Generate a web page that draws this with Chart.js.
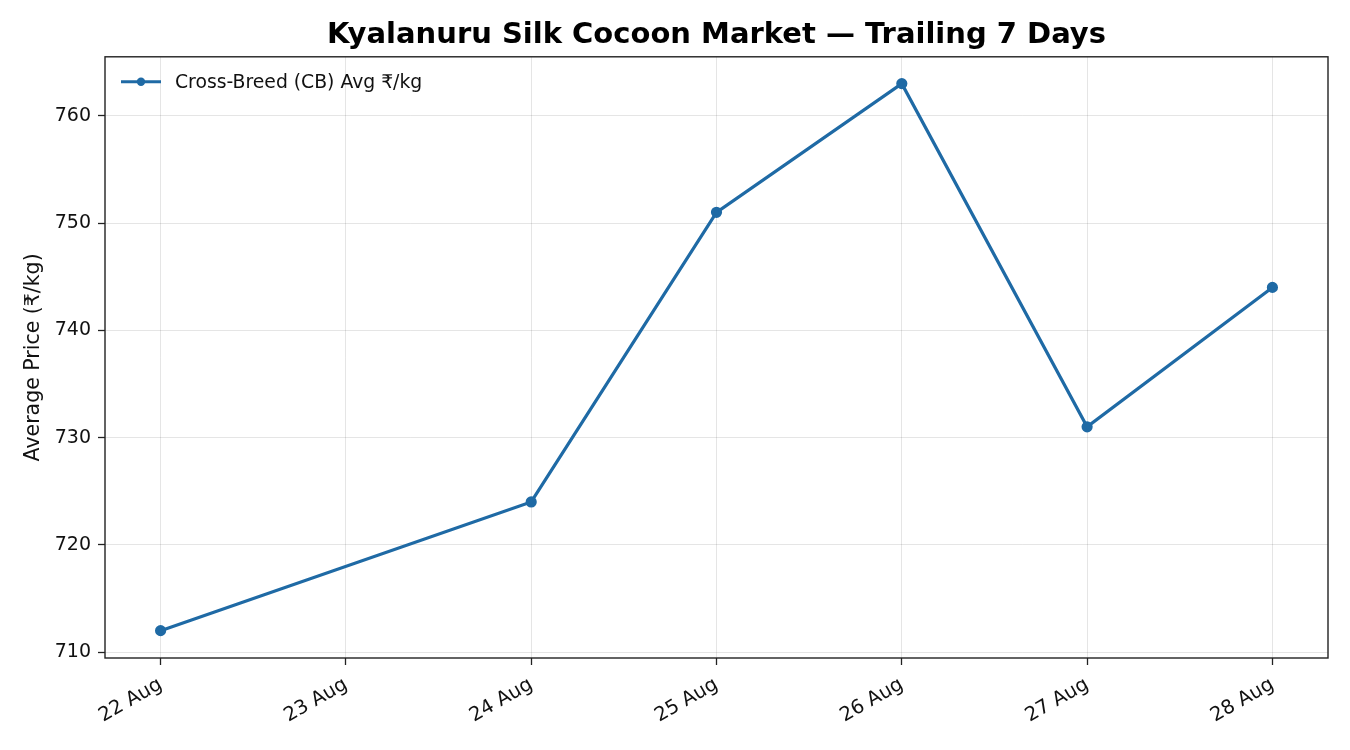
<!DOCTYPE html>
<html>
<head>
<meta charset="utf-8">
<script src="https://cdn.jsdelivr.net/npm/chart.js@4.4.1/dist/chart.umd.min.js"></script>
<style>
  html, body { margin: 0; padding: 0; background: #fff; }
  #wrap { width: 1350px; height: 750px; }
</style>
</head>
<body>
<div id="wrap"><canvas id="myChart" width="1350" height="750"></canvas></div>
<script>
// days shown on the x axis, 23 Aug has no reading
const days = ['22 Aug', '23 Aug', '24 Aug', '25 Aug', '26 Aug', '27 Aug', '28 Aug'];
const cbPrice = [712, null, 724, 751, 763, 731, 744];
const yTicks = [710, 720, 730, 740, 750, 760];
const seriesLabel = 'Cross-Breed (CB) Avg ₹/kg';

const lineColor = '#1f6aa5';
const font = 'DejaVu Sans';

const points = [];
for (let i = 0; i < days.length; i++) {
    if (cbPrice[i] !== null) points.push({ x: i, y: cbPrice[i] });
}

// matplotlib style box round the plot + legend inside it
const framePlugin = {
    id: 'frame',
    afterDraw(chart) {
        const ctx = chart.ctx;
        const a = chart.chartArea;
        ctx.save();
        ctx.strokeStyle = '#222';
        ctx.lineWidth = 1.4;
        ctx.strokeRect(a.left, a.top, a.right - a.left, a.bottom - a.top);

        const ds = chart.data.datasets[0];
        const lx = a.left + 16, ly = a.top + 25;
        ctx.strokeStyle = ds.borderColor;
        ctx.lineWidth = 3;
        ctx.beginPath();
        ctx.moveTo(lx, ly);
        ctx.lineTo(lx + 40, ly);
        ctx.stroke();
        ctx.fillStyle = ds.borderColor;
        ctx.beginPath();
        ctx.arc(lx + 20, ly, 4.2, 0, Math.PI * 2);
        ctx.fill();
        ctx.fillStyle = '#111';
        ctx.font = '18.8px "' + font + '"';
        ctx.textBaseline = 'middle';
        ctx.fillText(ds.label, lx + 54, ly + 1);
        ctx.restore();
    }
};

const ctx = document.getElementById('myChart').getContext('2d');
const myChart = new Chart(ctx, {
    type: 'line',
    data: {
        datasets: [
            {
                label: seriesLabel,
                data: points,
                borderColor: lineColor,
                backgroundColor: lineColor,
                borderWidth: 3.2,
                pointRadius: 4,
                pointHoverRadius: 4,
                tension: 0,
                fill: false
            }
        ]
    },
    options: {
        responsive: false,
        animation: false,
        layout: { padding: { left: 0, right: 22, top: 0, bottom: 0 } },
        plugins: {
            legend: { display: false },
            tooltip: { enabled: false },
            title: {
                display: true,
                text: 'Kyalanuru Silk Cocoon Market — Trailing 7 Days',
                fullSize: false,
                color: '#000',
                font: { family: font, size: 29, weight: 'bold' },
                padding: { top: 18, bottom: 4 }
            }
        },
        scales: {
            x: {
                type: 'linear',
                min: -0.3,
                max: 6.3,
                afterBuildTicks: function (scale) {
                    scale.ticks = days.map((d, i) => ({ value: i }));
                },
                afterFit: function (scale) { scale.height = 92; },
                ticks: {
                    autoSkip: false,
                    minRotation: 30,
                    maxRotation: 30,
                    padding: 8,
                    color: '#111',
                    font: { family: font, size: 19.5 },
                    callback: function (v) { return days[v]; }
                },
                grid: {
                    color: 'rgba(0,0,0,0.1)',
                    tickColor: '#222',
                    tickLength: 7,
                    tickWidth: 1.3
                },
                border: { display: false }
            },
            y: {
                min: 709.45,
                max: 765.5,
                afterBuildTicks: function (scale) {
                    scale.ticks = yTicks.map(v => ({ value: v }));
                },
                afterFit: function (scale) { scale.width = 105; },
                ticks: {
                    padding: 7,
                    color: '#111',
                    font: { family: font, size: 19 }
                },
                grid: {
                    color: 'rgba(0,0,0,0.1)',
                    tickColor: '#222',
                    tickLength: 7,
                    tickWidth: 1.3
                },
                border: { display: false },
                title: {
                    display: true,
                    text: 'Average Price (₹/kg)',
                    color: '#111',
                    font: { family: font, size: 20.5 },
                    padding: { top: 21, bottom: 0 }
                }
            }
        }
    },
    plugins: [framePlugin]
});
</script>
</body>
</html>
